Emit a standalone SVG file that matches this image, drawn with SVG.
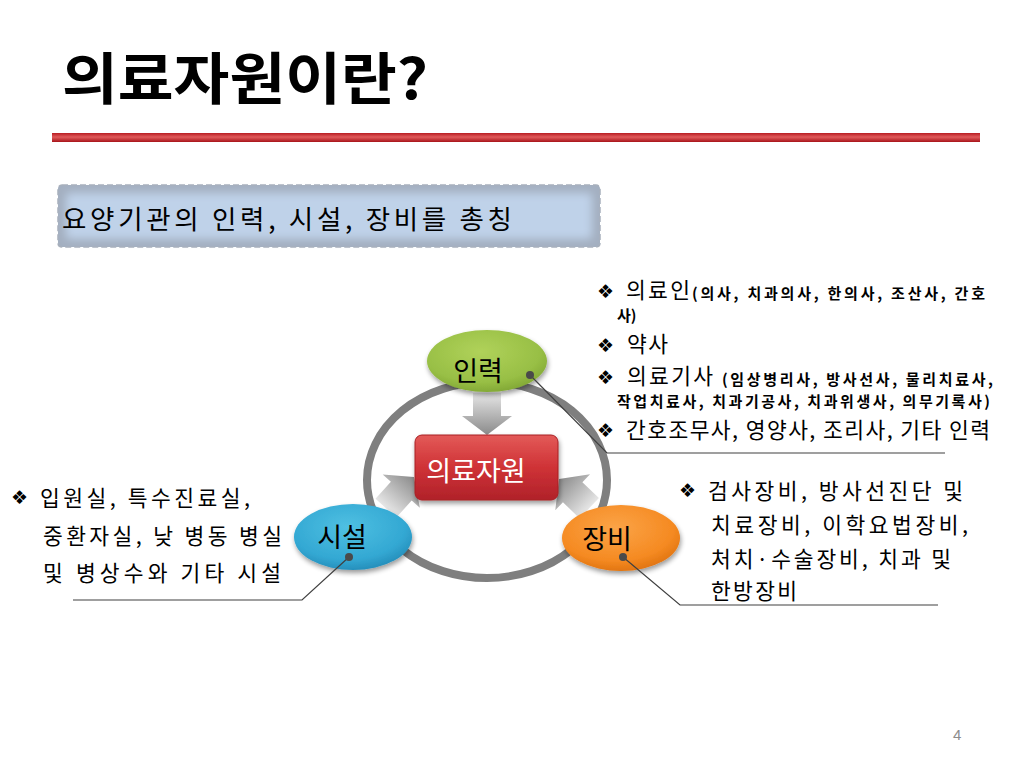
<svg xmlns="http://www.w3.org/2000/svg" width="1024" height="768" viewBox="0 0 1024 768">
<defs>
<style>
.kr{font-family:"Noto Sans CJK KR","Noto Sans",sans-serif;fill:#000}
.bul{font-family:"DejaVu Sans",sans-serif;fill:#000;font-size:19px}
.big{font-size:21.5px}
.sm{font-size:15px;font-weight:700}
.node{font-size:27px}
.call{stroke:#404040;stroke-width:1.2;fill:none}
.dot{fill:#4a4a4a}
</style>
<linearGradient id="redline" x1="0" y1="0" x2="0" y2="1">
<stop offset="0" stop-color="#b81c22"/><stop offset="0.45" stop-color="#e05a5a"/><stop offset="1" stop-color="#a8141a"/>
</linearGradient>
<linearGradient id="arrowg" x1="0" y1="0" x2="1" y2="0">
<stop offset="0" stop-color="#e6e6e6"/><stop offset="1" stop-color="#8a8a8a"/>
</linearGradient>
<linearGradient id="redbox" x1="0" y1="0" x2="0" y2="1">
<stop offset="0" stop-color="#e35a58"/><stop offset="0.5" stop-color="#cf3236"/><stop offset="1" stop-color="#b0222a"/>
</linearGradient>
<radialGradient id="green" cx="0.45" cy="0.35" r="0.7">
<stop offset="0" stop-color="#b0d25a"/><stop offset="0.7" stop-color="#98bf45"/><stop offset="1" stop-color="#7da332"/>
</radialGradient>
<radialGradient id="blue" cx="0.45" cy="0.35" r="0.7">
<stop offset="0" stop-color="#4fc0e2"/><stop offset="0.7" stop-color="#33a8d3"/><stop offset="1" stop-color="#2288b5"/>
</radialGradient>
<radialGradient id="orange" cx="0.45" cy="0.35" r="0.7">
<stop offset="0" stop-color="#fba447"/><stop offset="0.7" stop-color="#f58a22"/><stop offset="1" stop-color="#dc6f0c"/>
</radialGradient>
<filter id="shadow" x="-20%" y="-20%" width="140%" height="150%">
<feGaussianBlur in="SourceAlpha" stdDeviation="2.5"/>
<feOffset dx="1" dy="3" result="b"/>
<feComponentTransfer><feFuncA type="linear" slope="0.4"/></feComponentTransfer>
<feMerge><feMergeNode/><feMergeNode in="SourceGraphic"/></feMerge>
</filter>
<filter id="soft" x="-5%" y="-20%" width="110%" height="140%">
<feGaussianBlur stdDeviation="4"/>
</filter>
<path id="arrow" d="M-42,-14 L-19,-14 L-19,-25 L0,0 L-19,25 L-19,14 L-42,14 Z"/>
</defs>
<rect width="1024" height="768" fill="#ffffff"/>

<g id="title">
<text class="kr" x="62" y="99" font-size="56" font-weight="700" textLength="366" lengthAdjust="spacingAndGlyphs">의료자원이란?</text>
<rect x="52" y="133" width="928" height="9" fill="url(#redline)"/>
</g>

<g id="definition">
<rect x="58" y="185" width="542" height="62" rx="4" fill="#a3afc0" stroke="#a8b0bc" stroke-width="1.5" stroke-dasharray="6,3"/>
<rect x="66" y="193" width="526" height="46" rx="4" fill="#bfd2e9" filter="url(#soft)"/>
<text class="kr" x="62" y="229" font-size="26.5" textLength="450" lengthAdjust="spacing">요양기관의 인력, 시설, 장비를 총칭</text>
</g>

<g id="connectors">
<ellipse cx="487" cy="480" rx="120" ry="98" fill="none" stroke="#7f7f7f" stroke-width="8"/>
<use href="#arrow" fill="url(#arrowg)" transform="translate(487,435) rotate(90)"/>
<use href="#arrow" fill="url(#arrowg)" transform="translate(414,477) rotate(-48)"/>
<use href="#arrow" fill="url(#arrowg)" transform="translate(559,479) rotate(-136)"/>
</g>

<g id="center">
<rect x="415" y="435" width="143" height="65" rx="7" fill="url(#redbox)" stroke="#a81e24" stroke-width="1" filter="url(#shadow)"/>
<text class="kr node" x="476" y="481" text-anchor="middle" style="fill:#fff">의료자원</text>
</g>

<g id="node-inryeok">
<ellipse cx="487" cy="361" rx="60" ry="31" fill="url(#green)" filter="url(#shadow)"/>
<text class="kr node" x="478" y="381" text-anchor="middle">인력</text>
</g>
<g id="node-siseol">
<ellipse cx="353" cy="537" rx="59" ry="33" fill="url(#blue)" filter="url(#shadow)"/>
<text class="kr node" x="342" y="547" text-anchor="middle">시설</text>
</g>
<g id="node-jangbi">
<ellipse cx="621" cy="538" rx="59" ry="33" fill="url(#orange)" filter="url(#shadow)"/>
<text class="kr node" x="607" y="549" text-anchor="middle">장비</text>
</g>

<g id="callouts">
<polyline class="call" points="530,375 607,453 945,453"/>
<polyline class="call" points="349,557 302,600 73,600"/>
<polyline class="call" points="623,557 680,605 938,605"/>
<circle class="dot" cx="530" cy="375" r="4"/>
<circle class="dot" cx="349" cy="557" r="4"/>
<circle class="dot" cx="623" cy="557" r="4"/>
</g>

<g id="inryeok-text">
<text class="bul" x="597" y="298">❖</text>
<text class="kr big" x="626" y="298" textLength="64" lengthAdjust="spacing">의료인</text>
<text class="kr sm" x="692" y="299" textLength="293" lengthAdjust="spacing">(의사,  치과의사, 한의사, 조산사, 간호</text>
<text class="kr sm" x="617" y="321">사)</text>
<text class="bul" x="597" y="352">❖</text>
<text class="kr big" x="627" y="352" textLength="41" lengthAdjust="spacing">약사</text>
<text class="bul" x="597" y="384">❖</text>
<text class="kr big" x="627" y="384" textLength="86" lengthAdjust="spacing">의료기사</text>
<text class="kr sm" x="722" y="385" textLength="271" lengthAdjust="spacing">(임상병리사, 방사선사, 물리치료사,</text>
<text class="kr sm" x="617" y="407" textLength="373" lengthAdjust="spacing">작업치료사, 치과기공사, 치과위생사, 의무기록사)</text>
<text class="bul" x="597" y="437">❖</text>
<text class="kr big" x="626" y="438" textLength="364" lengthAdjust="spacing">간호조무사, 영양사, 조리사, 기타 인력</text>
</g>

<g id="siseol-text">
<text class="bul" x="11" y="504">❖</text>
<text class="kr big" x="40" y="506" textLength="210" lengthAdjust="spacing">입원실,  특수진료실,</text>
<text class="kr big" x="43" y="544" textLength="239" lengthAdjust="spacing">중환자실,  낮 병동 병실</text>
<text class="kr big" x="43" y="581" textLength="238" lengthAdjust="spacing">및  병상수와  기타 시설</text>
</g>

<g id="jangbi-text">
<text class="bul" x="679" y="497">❖</text>
<text class="kr big" x="708" y="499" textLength="255" lengthAdjust="spacing">검사장비,  방사선진단 및</text>
<text class="kr big" x="711" y="533" textLength="257" lengthAdjust="spacing">치료장비,  이학요법장비,</text>
<text class="kr big" x="711" y="567" textLength="240" lengthAdjust="spacing">처치·수술장비,  치과 및</text>
<text class="kr big" x="711" y="599" textLength="86" lengthAdjust="spacing">한방장비</text>
</g>

<text x="953" y="740" font-family="Liberation Sans, sans-serif" font-size="15" fill="#8c8c8c">4</text>
</svg>
